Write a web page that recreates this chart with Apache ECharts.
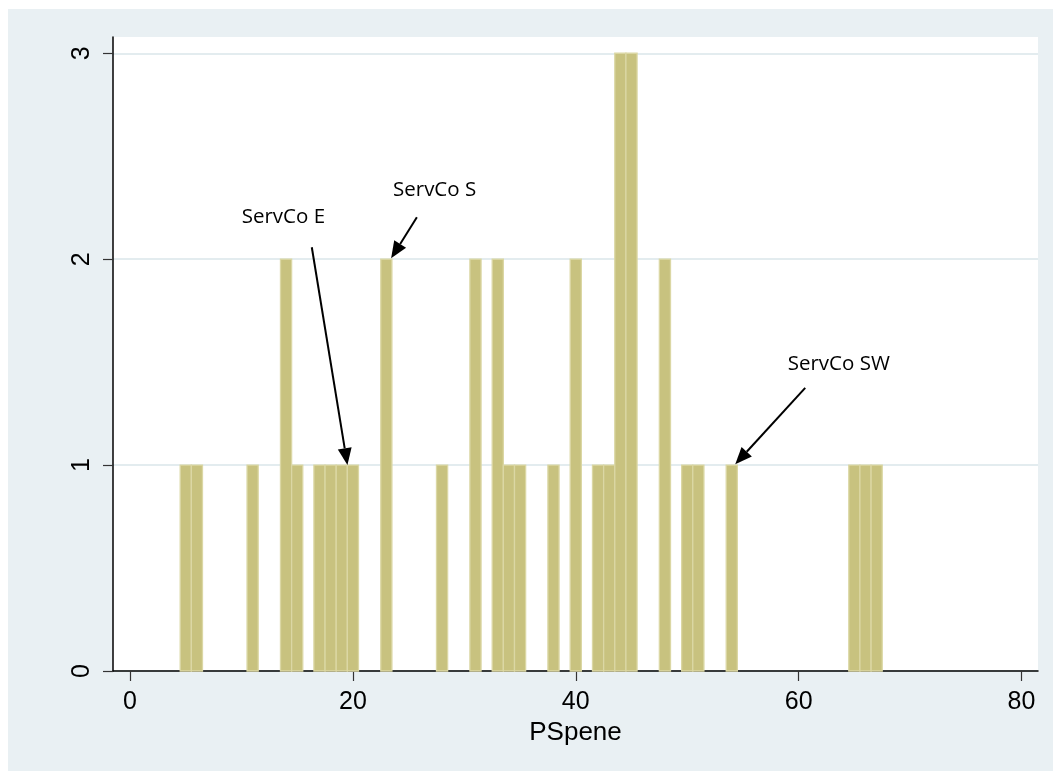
<!DOCTYPE html>
<html>
<head>
<meta charset="utf-8">
<script src="https://cdn.jsdelivr.net/npm/echarts@6/dist/echarts.min.js"></script>
<style>
  html, body { margin: 0; padding: 0; background: #ffffff; }
  #frame { position: absolute; left: 8px; top: 9px; right: 0; bottom: 0; background: #e9f0f3; }
  #chart { position: absolute; left: 0; top: 0; width: 1053px; height: 771px; }
</style>
</head>
<body>
<div id="frame"></div>
<div id="chart"></div>
<script>
// PSpene scores (discrete bins of width 1) and their frequencies
const scores = [5, 6, 11, 14, 15, 17, 18, 19, 20, 23, 28, 31, 33, 34, 35, 38, 40, 42, 43, 44, 45, 48, 50, 51, 54, 65, 66, 67];
const counts = [1, 1, 1, 2, 1, 1, 1, 1, 1, 2, 1, 2, 2, 1, 1, 1, 2, 1, 1, 3, 3, 2, 1, 1, 1, 1, 1, 1];

// axis ticks
const xTicks = [0, 20, 40, 60, 80];
const yTicks = [0, 1, 2, 3];

// callouts: text, text anchor, arrow tail, arrow tip (data units)
const calloutText = ['ServCo E', 'ServCo S', 'ServCo SW'];
const calloutAt   = [[13.76, 2.206], [27.33, 2.336], [63.6, 1.491]];
const arrowFrom   = [[16.31, 2.058], [25.74, 2.204], [60.59, 1.375]];
const arrowTo     = [[19.51, 1.0], [23.43, 2.004], [54.31, 1.004]];

const binData = scores.map((s, i) => [s, counts[i]]);
const arrowData = arrowFrom.map((f, i) => [f[0], f[1], arrowTo[i][0], arrowTo[i][1]]);
const textData = calloutAt.map((p, i) => [p[0], p[1], calloutText[i]]);

const chart = echarts.init(document.getElementById('chart'), null, { renderer: 'canvas' });

const tickFont = { fontFamily: 'Liberation Sans, Arial, sans-serif', fontSize: 25, color: '#000' };

chart.setOption({
  animation: false,
  backgroundColor: 'transparent',
  grid: {
    left: 113, top: 37, right: 15, bottom: 100,
    show: true, backgroundColor: '#ffffff', borderWidth: 0
  },
  xAxis: {
    type: 'value',
    min: -1.53, max: 81.48,
    name: 'PSpene',
    nameLocation: 'middle',
    nameGap: 46,
    nameTextStyle: { fontFamily: 'Liberation Sans, Arial, sans-serif', fontSize: 26, color: '#000' },
    axisLine: { show: true, onZero: false, lineStyle: { color: '#000', width: 1.5 } },
    axisTick: { show: true, length: 10, customValues: xTicks, lineStyle: { color: '#333', width: 1.2 } },
    axisLabel: Object.assign({ customValues: xTicks, margin: 19 }, tickFont),
    splitLine: { show: false }
  },
  yAxis: {
    type: 'value',
    min: 0, max: 3.079, interval: 1,
    axisLine: { show: true, onZero: false, lineStyle: { color: '#000', width: 1.5 } },
    axisTick: { show: true, length: 10, customValues: yTicks, lineStyle: { color: '#333', width: 1.2 } },
    axisLabel: Object.assign({ customValues: yTicks, rotate: 90, margin: 18 }, tickFont),
    splitLine: { show: true, lineStyle: { color: '#e3ecef', width: 2 } }
  },
  series: [
    {
      // histogram bars, one unit wide, centred on each score
      type: 'custom',
      data: binData,
      encode: { x: 0, y: 1 },
      renderItem: function (params, api) {
        const x = api.value(0), y = api.value(1);
        const tl = api.coord([x - 0.5, y]);
        const br = api.coord([x + 0.5, 0]);
        return {
          type: 'rect',
          shape: { x: tl[0], y: tl[1], width: br[0] - tl[0], height: br[1] - tl[1] },
          style: { fill: '#c8c27f', stroke: '#dbd7a4', lineWidth: 1.3 }
        };
      },
      z: 2
    },
    {
      // callout arrows
      type: 'custom',
      data: arrowData,
      encode: { x: [0, 2], y: [1, 3] },
      renderItem: function (params, api) {
        const p0 = api.coord([api.value(0), api.value(1)]);
        const p1 = api.coord([api.value(2), api.value(3)]);
        const dx = p1[0] - p0[0], dy = p1[1] - p0[1];
        const len = Math.sqrt(dx * dx + dy * dy);
        const ux = dx / len, uy = dy / len;
        const headLen = 17, headHalf = 7;
        const bx = p1[0] - ux * headLen, by = p1[1] - uy * headLen;
        return {
          type: 'group',
          children: [
            { type: 'line', shape: { x1: p0[0], y1: p0[1], x2: bx, y2: by },
              style: { stroke: '#000', lineWidth: 2 } },
            { type: 'polygon',
              shape: { points: [[p1[0], p1[1]], [bx - uy * headHalf, by + ux * headHalf], [bx + uy * headHalf, by - ux * headHalf]] },
              style: { fill: '#000' } }
          ]
        };
      },
      z: 5
    },
    {
      // callout labels
      type: 'custom',
      data: textData,
      encode: { x: 0, y: 1 },
      renderItem: function (params, api) {
        const p = api.coord([api.value(0), api.value(1)]);
        return {
          type: 'text',
          x: p[0], y: p[1],
          style: {
            text: textData[params.dataIndex][2],
            fontFamily: 'Open Sans, Noto Sans, sans-serif',
            fontSize: 20.5,
            fill: '#000',
            align: 'center',
            verticalAlign: 'middle'
          }
        };
      },
      z: 5
    }
  ]
});
</script>
</body>
</html>
